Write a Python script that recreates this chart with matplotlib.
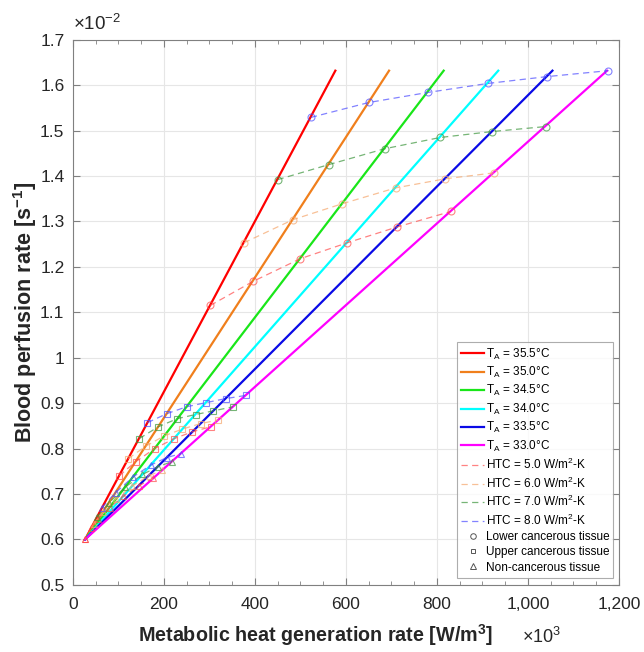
import numpy as np
import matplotlib
matplotlib.use('Agg')
import matplotlib.pyplot as plt
from matplotlib.lines import Line2D
from matplotlib.ticker import MultipleLocator, FuncFormatter

plt.rcParams['font.family'] = ['Liberation Sans', 'DejaVu Sans']
plt.rcParams['mathtext.fontset'] = 'custom'
plt.rcParams['mathtext.rm'] = 'Liberation Sans'
plt.rcParams['mathtext.it'] = 'Liberation Sans:italic'
plt.rcParams['mathtext.bf'] = 'Liberation Sans:bold'

# ambient temperature lines (x in 10^3 W/m3, y in 10^-2 1/s)
t_labels = ['35.5', '35.0', '34.5', '34.0', '33.5', '33.0']
t_colors = ['#ff0000', '#f07f1c', '#19e619', '#00ffff', '#0a0ae6', '#ff00ff']
line_x0 = [27, 27, 27, 27, 27, 27]
line_x1 = [577, 695, 815, 935, 1054, 1174]
line_y0 = 0.6
line_y1 = 1.632

htc_labels = ['5.0', '6.0', '7.0', '8.0']
htc_colors = ['#ff4d4d', '#f5a66b', '#3c963c', '#4d4dff']

# lower cancerous tissue (circles), rows = HTC, cols = T_A
low_x = [[302, 396, 500, 603, 713, 831],
         [376, 484, 592, 710, 819, 926],
         [450, 562, 685, 808, 922, 1040],
         [523, 651, 780, 913, 1043, 1177]]
low_y = [[1.115, 1.168, 1.218, 1.253, 1.288, 1.322],
         [1.253, 1.304, 1.339, 1.374, 1.394, 1.407],
         [1.392, 1.425, 1.460, 1.485, 1.498, 1.509],
         [1.529, 1.562, 1.584, 1.604, 1.619, 1.632]]

# upper cancerous tissue (squares)
up_x = [[102, 138, 180, 223, 263, 303],
        [122, 160, 201, 241, 281, 320],
        [146, 188, 230, 270, 309, 352],
        [164, 207, 250, 292, 336, 380]]
up_y = [[0.740, 0.771, 0.800, 0.822, 0.837, 0.848],
        [0.778, 0.805, 0.828, 0.843, 0.855, 0.863],
        [0.822, 0.848, 0.866, 0.875, 0.883, 0.892],
        [0.857, 0.877, 0.892, 0.901, 0.910, 0.917]]

# non-cancerous tissue (triangles)
non_x = [[40, 56, 81, 111, 145, 177],
         [46, 66, 96, 131, 167, 196],
         [54, 79, 115, 153, 187, 217],
         [64, 94, 133, 172, 206, 238]]
non_y = [[0.625, 0.645, 0.670, 0.695, 0.718, 0.735],
         [0.635, 0.660, 0.690, 0.718, 0.740, 0.752],
         [0.650, 0.680, 0.715, 0.743, 0.760, 0.771],
         [0.670, 0.703, 0.738, 0.764, 0.780, 0.789]]

fig = plt.figure(figsize=(6.44, 6.52), dpi=100)
ax = fig.add_axes([0.113, 0.103, 0.848, 0.836])

handles = []
for i in range(6):
    l, = ax.plot([line_x0[i], line_x1[i]], [line_y0, line_y1], color=t_colors[i], lw=1.6,
                 label='T$_\\mathregular{A}$ = ' + t_labels[i] + '°C', zorder=3)
    handles.append(l)

for j in range(4):
    c = htc_colors[j]
    for xs, ys, m, ms in [(low_x, low_y, 'o', 5), (up_x, up_y, 's', 4.5), (non_x, non_y, '^', 5)]:
        ax.plot(xs[j], ys[j], ls=(0, (5, 3.5)), lw=0.9, color=c, alpha=0.7,
                marker=m, ms=ms, mfc='none', mec=c, mew=0.8, zorder=4)
    handles.append(Line2D([], [], ls=(0, (5, 3.5)), lw=0.9, color=c, alpha=0.7,
                          label='HTC = ' + htc_labels[j] + ' W/m$^\\mathregular{2}$-K'))

ax.plot([line_x0[0]], [line_y0], ls='none', marker='^', ms=5, mfc='none', mec=htc_colors[0], mew=0.8, zorder=4)

handles.append(Line2D([], [], ls='none', marker='o', ms=4, mfc='none', mec='#555555', mew=0.7, label='Lower cancerous tissue'))
handles.append(Line2D([], [], ls='none', marker='s', ms=3.5, mfc='none', mec='#555555', mew=0.7, label='Upper cancerous tissue'))
handles.append(Line2D([], [], ls='none', marker='^', ms=4, mfc='none', mec='#555555', mew=0.7, label='Non-cancerous tissue'))

ax.set_xlim(0, 1200)
ax.set_ylim(0.5, 1.7)
ax.xaxis.set_major_locator(MultipleLocator(200))
ax.xaxis.set_minor_locator(MultipleLocator(50))
ax.yaxis.set_major_locator(MultipleLocator(0.1))
ax.xaxis.set_major_formatter(FuncFormatter(lambda v, p: f'{v:,.0f}'))
ax.yaxis.set_major_formatter(FuncFormatter(lambda v, p: f'{v:g}'))
ax.tick_params(which='both', direction='in', top=True, right=True, colors='#808080',
               labelcolor='#262626', labelsize=12.5)
ax.tick_params(which='major', length=5)
ax.tick_params(which='minor', length=3)
ax.tick_params(axis='x', which='major', pad=9)
ax.tick_params(axis='y', which='major', pad=6)
for s in ax.spines.values():
    s.set_color('#808080')
    s.set_linewidth(0.8)
ax.grid(True, color='#e6e6e6', lw=0.8)
ax.set_axisbelow(True)

ax.set_xlabel('Metabolic heat generation rate [W/m$^\\mathbf{3}$]', fontsize=14.2, fontweight='bold',
              color='#262626', labelpad=7, x=0.445)
ax.set_ylabel('Blood perfusion rate [s$^\\mathbf{-1}$]', fontsize=15.5, fontweight='bold', color='#262626',
              labelpad=1)
ax.text(0.0, 1.01, '×10$^\\mathregular{-2}$', transform=ax.transAxes, fontsize=13.5, color='#262626', ha='left', va='bottom')
ax.text(0.822, -0.095, '×10$^\\mathregular{3}$', transform=ax.transAxes, fontsize=13, color='#262626', ha='left', va='center')

leg = ax.legend(handles=handles, loc='lower right', bbox_to_anchor=(0.99, 0.013), fontsize=8.5,
                frameon=True, fancybox=False, edgecolor='#999999', handlelength=1.9,
                handletextpad=0.15, labelspacing=0.28, borderpad=0.35, borderaxespad=0)
leg.get_frame().set_linewidth(0.8)

fig.savefig('out.png', dpi=100)
